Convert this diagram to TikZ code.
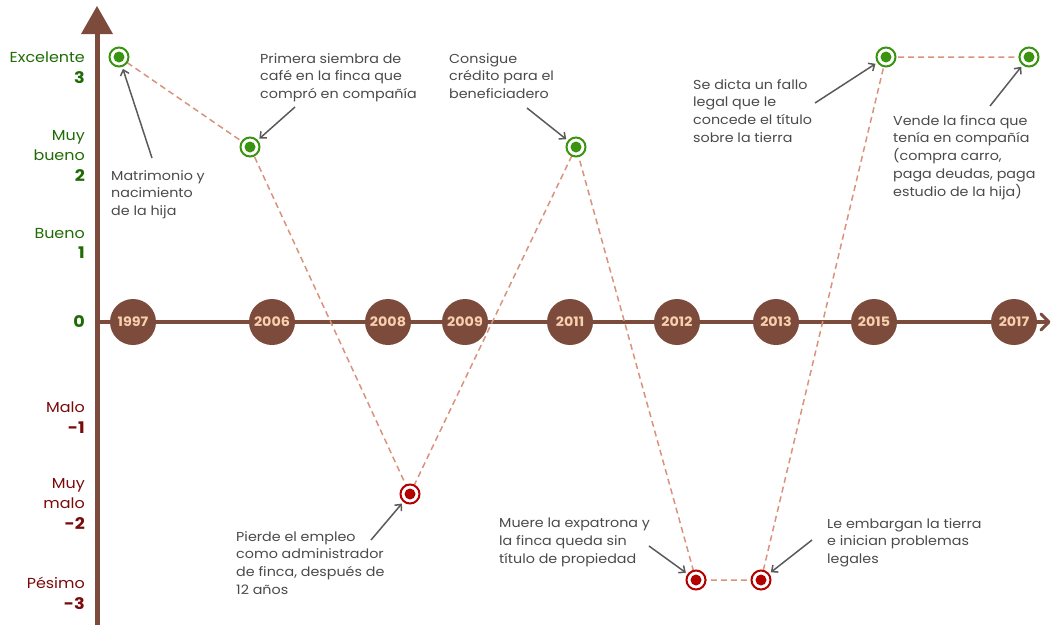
\documentclass[tikz,border=0pt]{standalone}
\usepackage{fontspec}
\setmainfont{Poppins}[FakeStretch=1.1]
\usetikzlibrary{arrows.meta}
\definecolor{brown1}{HTML}{7D4B3B}
\definecolor{yeartxt}{HTML}{F9D0AE}
\definecolor{gring}{HTML}{3A9410}
\definecolor{rring}{HTML}{B30000}
\definecolor{glab}{HTML}{1E6B05}
\definecolor{rlab}{HTML}{7A0A0A}
\definecolor{dashc}{HTML}{D9937C}
\definecolor{anncol}{HTML}{4A4A4A}
\definecolor{arrc}{HTML}{5A5A5A}
\tikzset{
  year/.style={circle, fill=brown1, minimum size=46pt, inner sep=0, text=yeartxt, font=\fontsize{13}{15}\selectfont\bfseries},
  gmark/.style={circle, draw=gring, line width=2pt, fill=white, minimum size=19pt, inner sep=0,
    path picture={\fill[gring] (path picture bounding box.center) circle (5.5pt);}},
  rmark/.style={circle, draw=rring, line width=2pt, fill=white, minimum size=19pt, inner sep=0,
    path picture={\fill[rring] (path picture bounding box.center) circle (5.5pt);}},
  trend/.style={dashc, line width=1.5pt, dash pattern=on 6pt off 4pt},
  ann/.style={anchor=north west, align=left, inner sep=0, text=anncol, font=\fontsize{13}{17.8}\selectfont, execute at begin node=\strut},
  glabel/.style={anchor=north east, align=right, inner sep=0, text=glab, font=\fontsize{14.5}{20.5}\selectfont, execute at begin node=\strut},
  rlabel/.style={anchor=north east, align=right, inner sep=0, text=rlab, font=\fontsize{14.5}{20.5}\selectfont, execute at begin node=\strut},
  num/.style={font=\fontsize{16}{20}\selectfont\bfseries},
  pointer/.style={arrc, line width=1.5pt, -{Straight Barb[length=5pt,width=9pt]}, shorten >=2pt},
}
\begin{document}
\begin{tikzpicture}[x=1pt,y=-1pt]
\useasboundingbox (0,0) rectangle (1057,625);
% axes
\draw[brown1, line width=5pt] (97,625) -- (97,32);
\fill[brown1] (81,34) -- (113,34) -- (97,6) -- cycle;
\draw[brown1, line width=4pt] (97,322) -- (1047,322);
\draw[brown1, line width=3pt, line cap=round, line join=round] (1041,314) -- (1049,322) -- (1041,330);
% years
\node[year] (y1997) at (133,322) {1997};
\node[year] (y2006) at (272,322) {2006};
\node[year] (y2008) at (388,322) {2008};
\node[year] (y2009) at (465,322) {2009};
\node[year] (y2011) at (570,322) {2011};
\node[year] (y2012) at (677,322) {2012};
\node[year] (y2013) at (776,322) {2013};
\node[year] (y2015) at (874,322) {2015};
\node[year] (y2017) at (1014,322) {2017};
% level labels
\node[glabel] (l3) at (85,52) {Excelente\\\textbf{\fontsize{16}{20}\selectfont 3}};
\node[glabel] (l2) at (85,130) {Muy\\bueno\\\textbf{\fontsize{16}{20}\selectfont 2}};
\node[glabel] (l1) at (85,228) {Bueno\\\textbf{\fontsize{16}{20}\selectfont 1}};
\node[anchor=east, inner sep=0, text=glab, num] (l0) at (85,322) {0};
\node[rlabel] (lm1) at (85,402) {Malo\\\textbf{\fontsize{16}{20}\selectfont -1}};
\node[rlabel] (lm2) at (85,478) {Muy\\malo\\\textbf{\fontsize{16}{20}\selectfont -2}};
\node[rlabel] (lm3) at (85,577) {Pésimo\\\textbf{\fontsize{16}{20}\selectfont -3}};
% trend points
\coordinate (p1) at (119,57);
\coordinate (p2) at (250,147);
\coordinate (p3) at (410,494);
\coordinate (p4) at (576,147);
\coordinate (p5) at (696,580);
\coordinate (p6) at (761,580);
\coordinate (p7) at (886,57);
\coordinate (p8) at (1029,57);
\draw[trend] (p1) -- (p2) -- (p3) -- (p4) -- (p5) -- (p6) -- (p7) -- (p8);
\node[gmark] (m1) at (p1) {};
\node[gmark] (m2) at (p2) {};
\node[rmark] (m3) at (p3) {};
\node[gmark] (m4) at (p4) {};
\node[rmark] (m5) at (p5) {};
\node[rmark] (m6) at (p6) {};
\node[gmark] (m7) at (p7) {};
\node[gmark] (m8) at (p8) {};
% annotations
\node[ann] (t1) at (111,170) {Matrimonio y\\nacimiento\\de la hija};
\node[ann] (t2) at (260,53) {Primera siembra de\\café en la finca que\\compró en compañía};
\node[ann] (t3) at (449,53) {Consigue\\crédito para el\\beneficiadero};
\node[ann] (t4) at (693,79) {Se dicta un fallo\\legal que le\\concede el título\\sobre la tierra};
\node[ann] (t5) at (893,115) {Vende la finca que\\tenía en compañía\\(compra carro,\\paga deudas, paga\\estudio de la hija)};
\node[ann] (t6) at (236,531) {Pierde el empleo\\como administrador\\de finca, después de\\12 años};
\node[ann] (t7) at (499,518) {Muere la expatrona y\\la finca queda sin\\título de propiedad};
\node[ann] (t8) at (827,518) {Le embargan la tierra\\e inician problemas\\legales};
% pointers
\coordinate (a1) at (152,158);
\coordinate (a2) at (295,107);
\coordinate (a3) at (527,108);
\coordinate (a4) at (815,103);
\coordinate (a5) at (990,106);
\coordinate (a6) at (371,540);
\coordinate (a7) at (649,546);
\coordinate (a8) at (812,540);
\draw[pointer] (a1) -- (m1);
\draw[pointer] (a2) -- (m2);
\draw[pointer] (a3) -- (m4);
\draw[pointer] (a4) -- (m7);
\draw[pointer] (a5) -- (m8);
\draw[pointer] (a6) -- (m3);
\draw[pointer] (a7) -- (m5);
\draw[pointer] (a8) -- (m6);
\end{tikzpicture}
\end{document}
